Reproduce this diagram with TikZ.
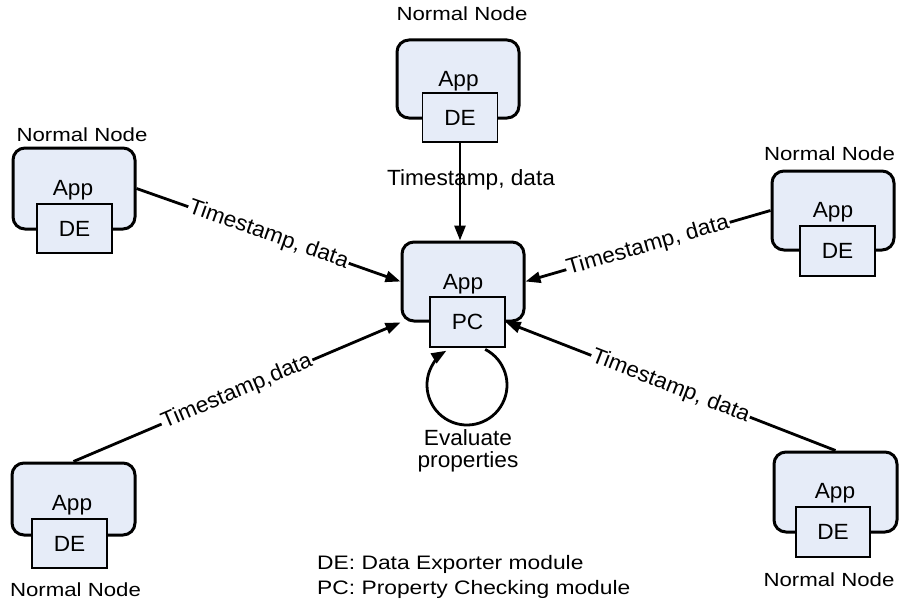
\documentclass[tikz,border=0pt]{standalone}
\usepackage{fontspec}
\setmainfont[FakeStretch=1.03]{Liberation Sans}
\newfontfamily\widefont[FakeStretch=1.17]{Liberation Sans}
\usetikzlibrary{arrows.meta}
\definecolor{boxblue}{RGB}{230,236,248}
\tikzset{
  app/.style={draw, line width=3pt, rounded corners=12pt, fill=boxblue, minimum width=122pt, minimum height=79pt, inner sep=0pt},
  mod/.style={draw, line width=1.2pt, fill=boxblue, minimum width=75pt, minimum height=50pt, inner sep=0pt, font=\fontsize{22}{22}\selectfont},
  txt/.style={inner sep=0pt, anchor=base, font=\fontsize{22}{22}\selectfont},
  title/.style={inner sep=0pt, anchor=base, font=\widefont\fontsize{19}{19}\selectfont},
  conn/.style={line width=2.8pt, -{Triangle[length=15pt,width=11pt]}},
  lbl/.style={sloped, fill=white, inner sep=1pt, font=\fontsize{22}{22}\selectfont},
}
\begin{document}
\begin{tikzpicture}[x=1pt,y=1pt]
\useasboundingbox (0,0) rectangle (903,-602);

% checking node
\node[app] (ctr) at (463,-281.5) {};
\node[txt] (ctr-txt) at (463,-289) {App};
\node[mod] (pc) at (467.5,-322) {PC};

% normal nodes
\node[app, minimum height=78pt] (top) at (458,-79) {};
\node[txt] (top-txt) at (458.5,-87) {App};
\node[mod, minimum height=49pt] (top-de) at (460,-117.5) {DE};
\node[title] (top-title) at (462,-21) {Normal Node};

\node[app, minimum height=81pt] (lft) at (74,-188.5) {};
\node[txt] (lft-txt) at (73,-195) {App};
\node[mod, minimum height=49pt] (lft-de) at (74.5,-228.5) {DE};
\node[title] (lft-title) at (82,-141.7) {Normal Node};

\node[app] (rgt) at (833,-210.5) {};
\node[txt] (rgt-txt) at (833,-217.7) {App};
\node[mod] (rgt-de) at (837.5,-251) {DE};
\node[title] (rgt-title) at (829.5,-160.7) {Normal Node};

\node[app, minimum width=123pt, minimum height=72pt] (bl) at (73.5,-499) {};
\node[txt] (bl-txt) at (72,-510.7) {App};
\node[mod, minimum height=49pt] (bl-de) at (69.5,-543.5) {DE};
\node[title] (bl-title) at (75.5,-596) {Normal Node};

\node[app, minimum width=123pt, minimum height=80pt] (br) at (835.5,-492) {};
\node[txt] (br-txt) at (835,-498) {App};
\node[mod, minimum width=74pt] (br-de) at (833,-532) {DE};
\node[title] (br-title) at (829,-586.7) {Normal Node};

% messages
\draw[conn] (top-de.south) -- node[pos=0.44, txt, xshift=11pt] {Timestamp, data} (top-de.south |- ctr.north);
\draw[conn] (lft.east) -- node[lbl] {Timestamp, data} (ctr.west);
\draw[conn] (rgt.west) -- node[lbl] {Timestamp, data} (ctr.east);
\draw[conn] (bl.north) -- node[lbl] {Timestamp,data} (ctr.south west);
\draw[conn] (br.north) -- node[lbl] {Timestamp, data} (pc.east);

% self check
\coordinate (loop) at (467,-385);
\draw[conn] ([shift={(63:40)}]loop) arc[start angle=63, end angle=-239, radius=40];
\node[txt, anchor=north, align=center] (eval) at (468,-429) {Evaluate\\properties};

\node[inner sep=0pt, anchor=base west, align=left, font=\widefont\fontsize{19.5}{25}\selectfont] (legend) at (317,-594) {DE: Data Exporter module\\PC: Property Checking module};

\end{tikzpicture}
\end{document}
